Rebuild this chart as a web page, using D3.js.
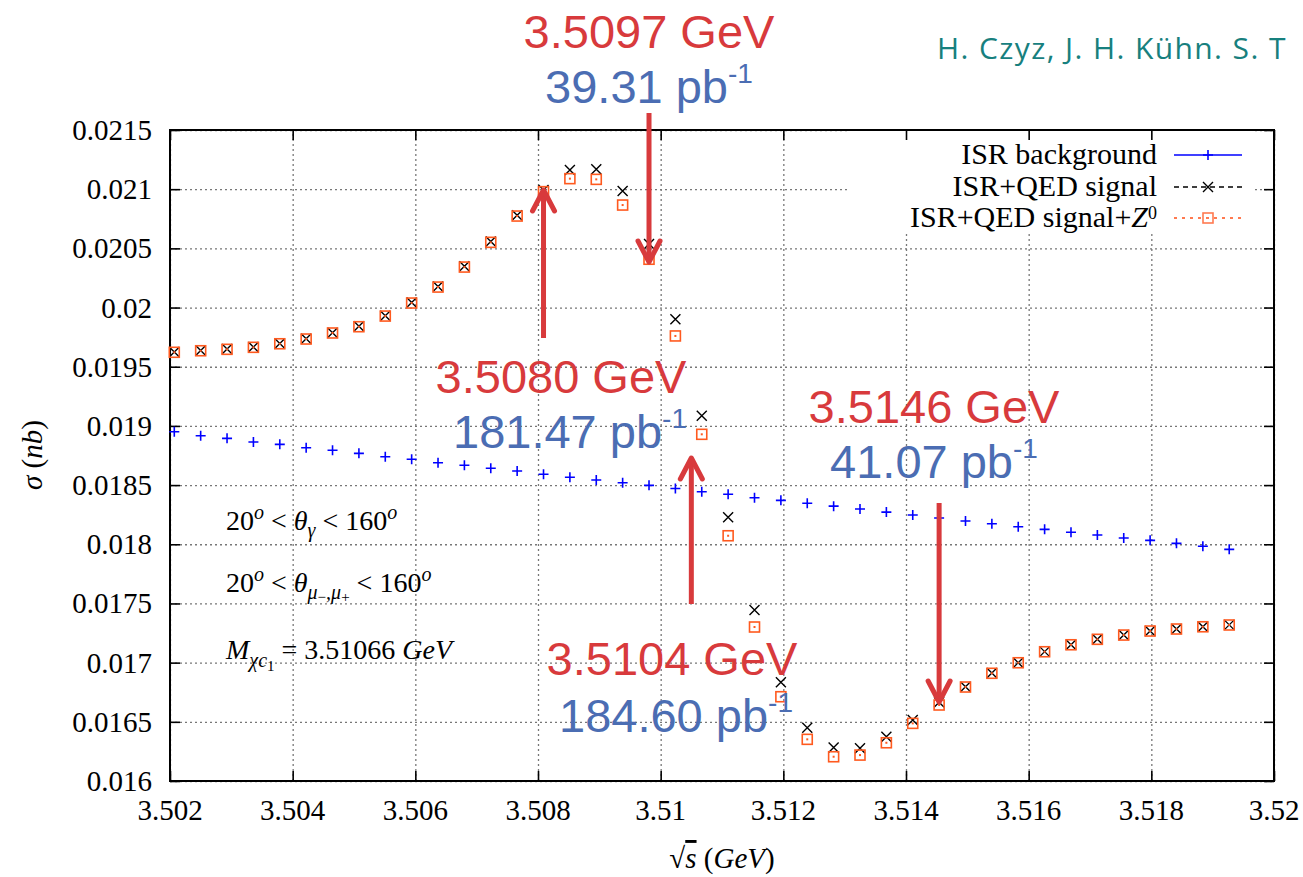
<!DOCTYPE html>
<html>
<head>
<meta charset="utf-8">
<script src="https://cdn.jsdelivr.net/npm/d3@7"></script>
<style>
  body { margin: 0; background: #fff; }
  svg { display: block; }
</style>
</head>
<body>
<div id="chart"></div>
<script>

// sqrt(s) in GeV
var energy = [3.50207, 3.50250, 3.50293, 3.50336, 3.50379, 3.50422, 3.50465, 3.50508, 3.50551, 3.50594,
              3.50637, 3.50680, 3.50723, 3.50766, 3.50809, 3.50852, 3.50895, 3.50938, 3.50981, 3.51024,
              3.51067, 3.51110, 3.51153, 3.51196, 3.51239, 3.51282, 3.51325, 3.51368, 3.51411, 3.51454,
              3.51497, 3.51540, 3.51583, 3.51626, 3.51669, 3.51712, 3.51755, 3.51798, 3.51841, 3.51884,
              3.51927];

// sigma (nb)
var isrBackground = [0.018951, 0.018917, 0.018895, 0.018864, 0.018844, 0.018816, 0.018794, 0.018768, 0.018740, 0.018718,
                     0.018689, 0.018667, 0.018642, 0.018619, 0.018591, 0.018566, 0.018543, 0.018520, 0.018498, 0.018471,
                     0.018444, 0.018422, 0.018393, 0.018371, 0.018347, 0.018322, 0.018298, 0.018272, 0.018247, 0.018222,
                     0.018196, 0.018173, 0.018148, 0.018126, 0.018101, 0.018078, 0.018053, 0.018033, 0.018008, 0.017983,
                     0.017957];

var qedSignal = [0.019624, 0.019637, 0.019649, 0.019666, 0.019696, 0.019736, 0.019788, 0.019841, 0.019931, 0.020042,
                 0.020178, 0.020348, 0.020557, 0.020780, 0.020993, 0.021162, 0.021168, 0.020985, 0.020537, 0.019901,
                 0.019086, 0.018228, 0.017444, 0.016834, 0.016450, 0.016284, 0.016276, 0.016374, 0.016515, 0.016665,
                 0.016797, 0.016912, 0.017000, 0.017093, 0.017152, 0.017198, 0.017234, 0.017268, 0.017285, 0.017304,
                 0.017319];

var qedSignalZ0 = [0.019622, 0.019635, 0.019647, 0.019664, 0.019694, 0.019734, 0.019785, 0.019838, 0.019928, 0.020038,
                   0.020173, 0.020342, 0.020551, 0.020773, 0.020979, 0.021089, 0.021083, 0.020866, 0.020408, 0.019760,
                   0.018929, 0.018072, 0.017301, 0.016712, 0.016352, 0.016205, 0.016219, 0.016323, 0.016487, 0.016642,
                   0.016794, 0.016910, 0.016999, 0.017092, 0.017151, 0.017197, 0.017233, 0.017267, 0.017284, 0.017303,
                   0.017318];

var xTicks = [3.502, 3.504, 3.506, 3.508, 3.510, 3.512, 3.514, 3.516, 3.518, 3.520];
var xTickLabels = ["3.502", "3.504", "3.506", "3.508", "3.51", "3.512", "3.514", "3.516", "3.518", "3.52"];
var yTicks = [0.016, 0.0165, 0.017, 0.0175, 0.018, 0.0185, 0.019, 0.0195, 0.020, 0.0205, 0.021, 0.0215];
var yTickLabels = ["0.016", "0.0165", "0.017", "0.0175", "0.018", "0.0185", "0.019", "0.0195", "0.02", "0.0205", "0.021", "0.0215"];

var legendNames = ["ISR background", "ISR+QED signal", "ISR+QED signal+"];

// annotated scan points: energy label, luminosity, arrow x (GeV)
var noteEnergy = ["3.5097 GeV", "3.5080 GeV", "3.5104 GeV", "3.5146 GeV"];
var noteLumi = ["39.31", "181.47", "184.60", "41.07"];
var noteArrowAt = [3.50981, 3.50809, 3.5105, 3.51454];

var W = 1303, H = 877;
var margin = {top: 130, right: 29, bottom: 96, left: 170},
    width = W - margin.left - margin.right,
    height = H - margin.top - margin.bottom;

var serif = "Liberation Serif";
var sans = "Liberation Sans";

var svg = d3.select("#chart")
  .append("svg")
    .attr("width", W)
    .attr("height", H)
    .attr("font-family", serif);

svg.append("rect").attr("width", W).attr("height", H).attr("fill", "#fff");

var g = svg.append("g")
    .attr("transform", "translate(" + margin.left + "," + margin.top + ")");

var x = d3.scaleLinear().domain([3.502, 3.52]).range([0, width]);
var y = d3.scaleLinear().domain([0.016, 0.0215]).range([height, 0]);

// dotted grid
g.append("g")
  .attr("class", "grid")
  .attr("transform", "translate(0," + height + ")")
  .call(d3.axisBottom(x).tickValues(xTicks).tickSize(-height).tickFormat(""));
g.append("g")
  .attr("class", "grid")
  .call(d3.axisLeft(y).tickValues(yTicks).tickSize(-width).tickFormat(""));
g.selectAll(".grid .domain").remove();
g.selectAll(".grid line")
  .attr("stroke", "#777")
  .attr("stroke-width", 1.3)
  .attr("stroke-dasharray", "2,3");

// legend box hides the grid behind it
g.append("rect")
  .attr("x", 680).attr("y", 1)
  .attr("width", 405).attr("height", 102)
  .attr("fill", "#fff");

// frame + inward ticks on all four sides
function styleAxis(sel) {
  sel.select(".domain").remove();
  sel.selectAll("line").attr("stroke", "#000").attr("stroke-width", 1.6);
}
g.append("g").attr("transform", "translate(0," + height + ")")
  .call(d3.axisBottom(x).tickValues(xTicks).tickSize(-10).tickFormat(""))
  .call(styleAxis);
g.append("g")
  .call(d3.axisTop(x).tickValues(xTicks).tickSize(-10).tickFormat(""))
  .call(styleAxis);
g.append("g")
  .call(d3.axisLeft(y).tickValues(yTicks).tickSize(-10).tickFormat(""))
  .call(styleAxis);
g.append("g").attr("transform", "translate(" + width + ",0)")
  .call(d3.axisRight(y).tickValues(yTicks).tickSize(-10).tickFormat(""))
  .call(styleAxis);
g.append("rect")
  .attr("width", width).attr("height", height)
  .attr("fill", "none").attr("stroke", "#000").attr("stroke-width", 2);

// tick labels
g.append("g").selectAll("text")
  .data(xTicks)
  .enter().append("text")
    .attr("x", function(d) { return x(d); })
    .attr("y", height + 39)
    .attr("text-anchor", "middle")
    .attr("font-family", serif)
    .attr("font-size", 29)
    .text(function(d, i) { return xTickLabels[i]; });
g.append("g").selectAll("text")
  .data(yTicks)
  .enter().append("text")
    .attr("x", -18)
    .attr("y", function(d) { return y(d) + 10; })
    .attr("text-anchor", "end")
    .attr("font-family", serif)
    .attr("font-size", 29)
    .text(function(d, i) { return yTickLabels[i]; });

// markers
var blue = "#0000ff", orange = "#ff5a1f";
var ms = 5;

function plus(sel, col) {
  sel.append("path")
    .attr("d", "M" + (-ms) + ",0H" + ms + "M0," + (-ms) + "V" + ms)
    .attr("stroke", col).attr("stroke-width", 1.6).attr("fill", "none");
}
function cross(sel, col) {
  sel.append("path")
    .attr("d", "M" + (-ms) + "," + (-ms) + "L" + ms + "," + ms + "M" + (-ms) + "," + ms + "L" + ms + "," + (-ms))
    .attr("stroke", col).attr("stroke-width", 1.4).attr("fill", "none");
}
function square(sel, col) {
  sel.append("rect")
    .attr("x", -ms).attr("y", -ms).attr("width", 2 * ms).attr("height", 2 * ms)
    .attr("stroke", col).attr("stroke-width", 1.6).attr("fill", "none");
  sel.append("rect")
    .attr("x", -1).attr("y", -1).attr("width", 2).attr("height", 2)
    .attr("fill", col);
}

function series(values, draw, col) {
  g.append("g").selectAll("g")
    .data(values)
    .enter()
    .append("g")
      .attr("transform", function(d, i) { return "translate(" + x(energy[i]) + "," + y(d) + ")"; })
      .each(function() { draw(d3.select(this), col); });
}
series(isrBackground, plus, blue);
series(qedSignal, cross, "#000");
series(qedSignalZ0, square, orange);

// legend
var leg = g.append("g").attr("transform", "translate(987,0)");
var legY = [25, 57, 88];
var legCol = [blue, "#000", "#ff7a50"];
var legDash = [null, "5,4", "3,5"];
var legDraw = [plus, cross, square];
legendNames.forEach(function(name, i) {
  var t = leg.append("text")
    .attr("x", 0).attr("y", legY[i] + 9)
    .attr("text-anchor", "end")
    .attr("font-size", 30)
    .text(name);
  if (i == 2) {
    t.append("tspan").attr("font-style", "italic").text("Z");
    t.append("tspan").attr("dy", -8).attr("font-size", 18).text("0");
  }
  leg.append("line")
    .attr("x1", 17).attr("x2", 85)
    .attr("y1", legY[i]).attr("y2", legY[i])
    .attr("stroke", legCol[i]).attr("stroke-width", i == 2 ? 2 : 1.4)
    .attr("stroke-dasharray", legDash[i]);
  var m = leg.append("g").attr("transform", "translate(51," + legY[i] + ")");
  legDraw[i](m, legCol[i]);
});

// cut labels
var mathSize = 28;
var c1 = g.append("text").attr("x", 56).attr("y", 400).attr("font-size", mathSize);
c1.append("tspan").text("20");
c1.append("tspan").attr("dy", -11).attr("font-size", 20).attr("font-style", "italic").text("o");
c1.append("tspan").attr("dy", 11).text(" < ");
c1.append("tspan").attr("font-style", "italic").text("θ");
c1.append("tspan").attr("dy", 7).attr("font-size", 20).attr("font-style", "italic").text("γ");
c1.append("tspan").attr("dy", -7).text(" < 160");
c1.append("tspan").attr("dy", -11).attr("font-size", 20).attr("font-style", "italic").text("o");

var c2 = g.append("text").attr("x", 56).attr("y", 462).attr("font-size", mathSize);
c2.append("tspan").text("20");
c2.append("tspan").attr("dy", -11).attr("font-size", 20).attr("font-style", "italic").text("o");
c2.append("tspan").attr("dy", 11).text(" < ");
c2.append("tspan").attr("font-style", "italic").text("θ");
c2.append("tspan").attr("dy", 7).attr("font-size", 20).attr("font-style", "italic").text("μ");
c2.append("tspan").attr("dy", 3).attr("font-size", 15).text("−");
c2.append("tspan").attr("dy", -3).attr("font-size", 20).attr("font-style", "italic").text(",μ");
c2.append("tspan").attr("dy", 3).attr("font-size", 15).text("+");
c2.append("tspan").attr("dy", -10).text(" < 160");
c2.append("tspan").attr("dy", -11).attr("font-size", 20).attr("font-style", "italic").text("o");

var c3 = g.append("text").attr("x", 56).attr("y", 529).attr("font-size", mathSize);
c3.append("tspan").attr("font-style", "italic").text("M");
c3.append("tspan").attr("dy", 8).attr("font-size", 20).attr("font-style", "italic").text("χc");
c3.append("tspan").attr("dy", 4).attr("font-size", 15).text("1");
c3.append("tspan").attr("dy", -12).text(" = 3.51066 ");
c3.append("tspan").attr("font-style", "italic").text("GeV");

// axis titles
var xl = svg.append("text")
  .attr("x", margin.left + width / 2).attr("y", 868)
  .attr("text-anchor", "middle")
  .attr("font-size", 29);
xl.append("tspan").text("√");
xl.append("tspan").attr("font-style", "italic").attr("text-decoration", "overline").text("s");
xl.append("tspan").text(" (");
xl.append("tspan").attr("font-style", "italic").text("GeV");
xl.append("tspan").text(")");

var yl = svg.append("text")
  .attr("transform", "translate(42,455) rotate(-90)")
  .attr("text-anchor", "middle")
  .attr("font-size", 29);
yl.append("tspan").attr("font-style", "italic").text("σ");
yl.append("tspan").text(" (");
yl.append("tspan").attr("font-style", "italic").text("nb");
yl.append("tspan").text(")");

// author line
svg.append("text")
  .attr("x", 937).attr("y", 59)
  .attr("font-family", "Open Sans")
  .attr("font-size", 30)
  .attr("letter-spacing", 1.4)
  .attr("fill", "#17807e")
  .text("H. Czyz, J. H. Kühn. S. T");

// red arrows and scan point labels
var red = "#d83a3c", labBlue = "#4b6db3";
var arrowTail = [113, 338, 604, 503];
var arrowTip = [262, 190, 458, 702];
var enPos = [[649, 48], [561, 393], [672, 675], [934, 423]];
var luPos = [[649, 103], [570, 448], [676, 732], [934, 478]];

noteEnergy.forEach(function(lab, i) {
  var ax = margin.left + x(noteArrowAt[i]);
  var t0 = arrowTail[i], t1 = arrowTip[i];
  var dir = t1 > t0 ? -1 : 1;
  svg.append("line")
    .attr("x1", ax).attr("x2", ax).attr("y1", t0).attr("y2", t1 + dir * 2)
    .attr("stroke", red).attr("stroke-width", 5);
  svg.append("path")
    .attr("d", "M" + (ax - 11) + "," + (t1 + dir * 21) + "L" + ax + "," + t1 + "L" + (ax + 11) + "," + (t1 + dir * 21))
    .attr("stroke", red).attr("stroke-width", 5)
    .attr("stroke-linecap", "round").attr("stroke-linejoin", "round")
    .attr("fill", "none");

  svg.append("text")
    .attr("x", enPos[i][0]).attr("y", enPos[i][1])
    .attr("text-anchor", "middle")
    .attr("font-family", sans)
    .attr("font-size", 47)
    .attr("fill", red)
    .text(lab);
  var lt = svg.append("text")
    .attr("x", luPos[i][0]).attr("y", luPos[i][1])
    .attr("text-anchor", "middle")
    .attr("font-family", sans)
    .attr("font-size", 47)
    .attr("fill", labBlue);
  lt.append("tspan").text(noteLumi[i] + " pb");
  lt.append("tspan").attr("dy", -20).attr("font-size", 28).text("-1");
});

</script>
</body>
</html>
